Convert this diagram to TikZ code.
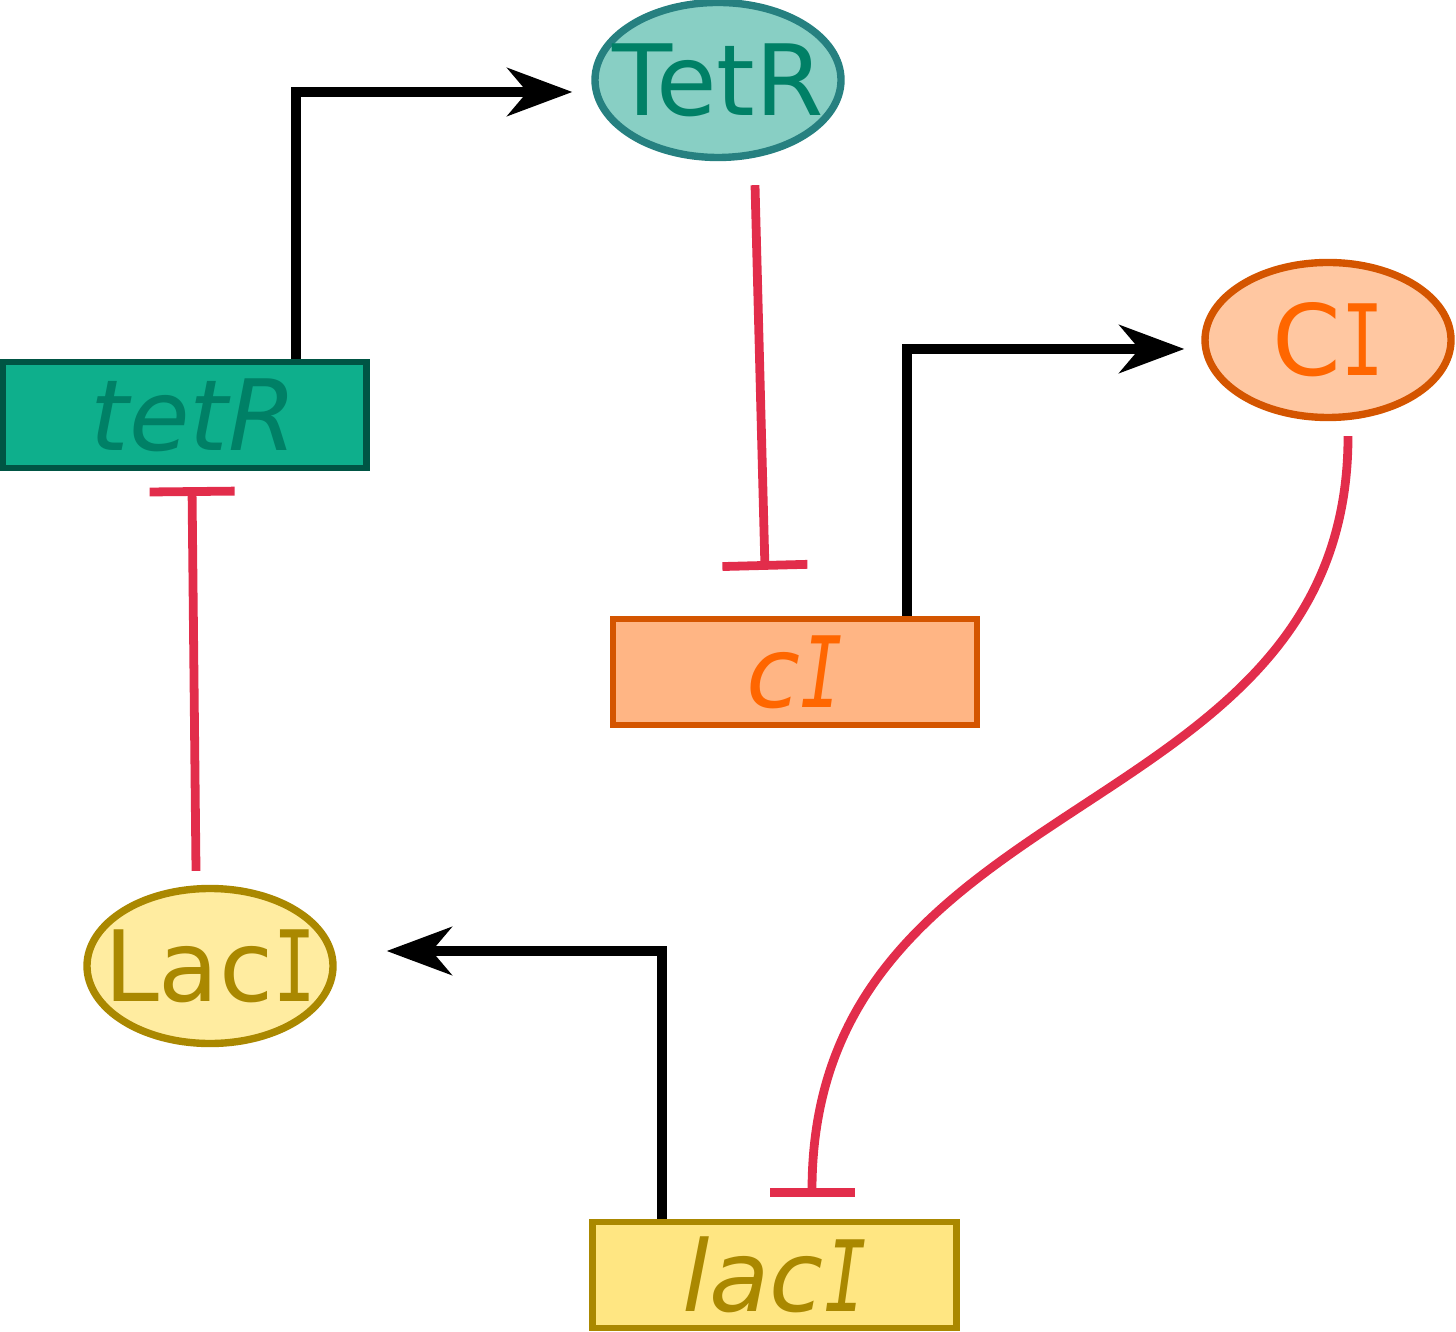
\documentclass[tikz,border=0pt]{standalone}
\usepackage{fontspec}
\setmainfont{DejaVu Sans}
\newfontfamily\serifI{DejaVu Sans Mono}
\newcommand{\capI}{\scalebox{0.72}[1]{\serifI I}}
\usetikzlibrary{arrows.meta,shapes.geometric}
\definecolor{tetfill}{HTML}{0EAF8C}
\definecolor{tetdraw}{HTML}{005544}
\definecolor{tettext}{HTML}{008066}
\definecolor{tetpfill}{HTML}{88CFC4}
\definecolor{tetpdraw}{HTML}{268080}
\definecolor{cifill}{HTML}{FFB584}
\definecolor{cipfill}{HTML}{FFC7A1}
\definecolor{cidraw}{HTML}{D45500}
\definecolor{citext}{HTML}{FF6600}
\definecolor{lacfill}{HTML}{FFE682}
\definecolor{lacpfill}{HTML}{FFECA0}
\definecolor{lacdraw}{HTML}{AA8800}
\definecolor{repred}{HTML}{E22D4B}
\begin{document}
\begin{tikzpicture}[
    gene/.style={rectangle, line width=1.8pt, minimum width=3.64cm, minimum height=1.06cm,
        inner sep=0pt, font=\fontsize{28}{30}\selectfont\itshape},
    protein/.style={ellipse, line width=2.1pt, minimum width=2.46cm, minimum height=1.55cm,
        inner sep=0pt},
    ptext/.style={font=\fontsize{28}{30}\selectfont, inner sep=0pt},
    act/.style={line width=2.7pt, -{Stealth[length=6.5mm, width=4.8mm, inset=2mm]}},
    rep/.style={line width=2.5pt, repred, -{Bar[width=8.5mm]}},
]
    \useasboundingbox (0,0) rectangle (14.56,-13.32);
    % genes
    \node[gene, fill=tetfill, draw=tetdraw, text=tettext] (tetR) at (1.845,-4.15) {\hspace{0.18cm}tetR};
    \node[gene, fill=cifill, draw=cidraw, text=citext] (cI) at (7.95,-6.72) {c\capI};
    \node[gene, fill=lacfill, draw=lacdraw, text=lacdraw] (lacI) at (7.745,-12.75) {lac\capI};
    % proteins
    \node[protein, fill=tetpfill, draw=tetpdraw,
        label={[ptext, text=tettext]center:TetR}] (TetR) at (7.18,-0.80) {};
    \node[protein, fill=cipfill, draw=cidraw,
        label={[ptext, text=citext]center:C\capI}] (CI) at (13.28,-3.40) {};
    \node[protein, fill=lacpfill, draw=lacdraw,
        label={[ptext, text=lacdraw]center:Lac\capI}] (LacI) at (2.10,-9.66) {};
    % expression
    \draw[act] (tetR.north -| 2.96,0) |- ([xshift=-0.19cm, yshift=-0.12cm]TetR.west);
    \draw[act] (cI.north -| 9.07,0) |- ([xshift=-0.17cm, yshift=-0.09cm]CI.west);
    \draw[act] (lacI.north -| 6.62,0) |- ([xshift=0.5cm, yshift=0.15cm]LacI.east);
    % repression
    \draw[rep] ([xshift=0.37cm, yshift=-0.24cm]TetR.south) -- ([xshift=-0.30cm, yshift=0.46cm]cI.north);
    \draw[rep] ([xshift=-0.14cm, yshift=0.14cm]LacI.north) -- ([xshift=0.075cm, yshift=-0.16cm]tetR.south);
    \draw[rep] ([xshift=0.2cm, yshift=-0.15cm]CI.south)
        .. controls (13.48,-8.3) and (8.12,-7.8) .. ([xshift=0.375cm, yshift=0.22cm]lacI.north);
\end{tikzpicture}
\end{document}
